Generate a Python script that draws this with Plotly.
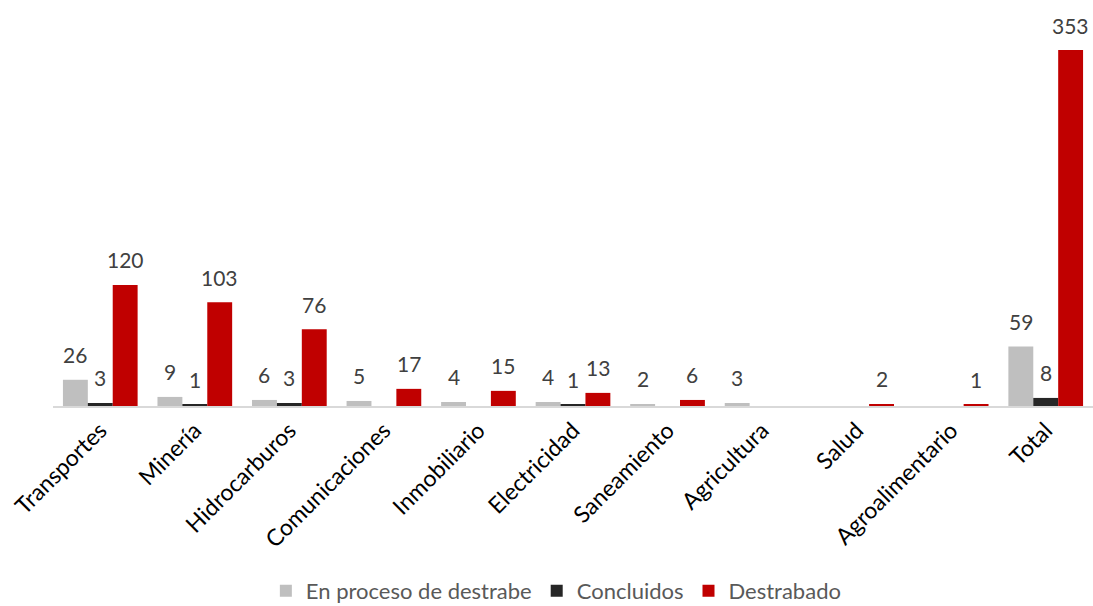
import plotly.graph_objects as go

categories = ["Transportes", "Minería", "Hidrocarburos", "Comunicaciones", "Inmobiliario",
              "Electricidad", "Saneamiento", "Agricultura", "Salud", "Agroalimentario", "Total"]
en_proceso = [26, 9, 6, 5, 4, 4, 2, 3, 0, 0, 59]
concluidos = [3, 1, 3, 0, 0, 1, 0, 0, 0, 0, 8]
destrabado = [120, 103, 76, 17, 15, 13, 6, 0, 2, 1, 353]

series = [
    ("En proceso de destrabe", en_proceso, "#BFBFBF"),
    ("Concluidos", concluidos, "#262626"),
    ("Destrabado", destrabado, "#C00000"),
]

FONT = "Lato, 'Open Sans', sans-serif"
W, H = 1093, 606
L, R, T, B = 53, 0, 10, 200
BARGAP = 0.21
cat_px = (W - L - R) / len(categories)
bar_px = cat_px * (1 - BARGAP) / len(series)

fig = go.Figure()
annotations = []
for i, (name, vals, color) in enumerate(series):
    fig.add_trace(go.Bar(
        name=name, x=categories, y=vals, marker_color=color,
        marker_line_width=0,
    ))
    for c, v in zip(categories, vals):
        if v:
            annotations.append(dict(
                x=c, y=v, xref="x", yref="y", text=str(v), showarrow=False,
                xshift=(i - 1) * bar_px, yshift=25, yanchor="middle",
                font=dict(size=21, color="#404040", family=FONT),
            ))

fig.update_layout(
    width=W, height=H,
    margin=dict(l=L, r=R, t=T, b=B, autoexpand=False),
    barmode="group", bargap=BARGAP, bargroupgap=0,
    plot_bgcolor="white", paper_bgcolor="white",
    font=dict(family=FONT, color="#404040"),
    showlegend=True,
    annotations=annotations,
    legend=dict(orientation="h", x=0.484, xanchor="center",
                y=-0.467, yanchor="middle",
                font=dict(size=22, color="#595959", family=FONT),
                itemwidth=30, traceorder="normal"),
)
fig.update_xaxes(showline=True, linecolor="#D9D9D9", linewidth=2, tickangle=-45,
                 tickfont=dict(size=23, color="#000000", family=FONT),
                 ticks="", automargin=False)
fig.update_yaxes(visible=False, range=[0, 392.7], showgrid=False)

fig.write_html("out.html", config={"displayModeBar": False},
               post_script="document.body.style.margin='0';")
